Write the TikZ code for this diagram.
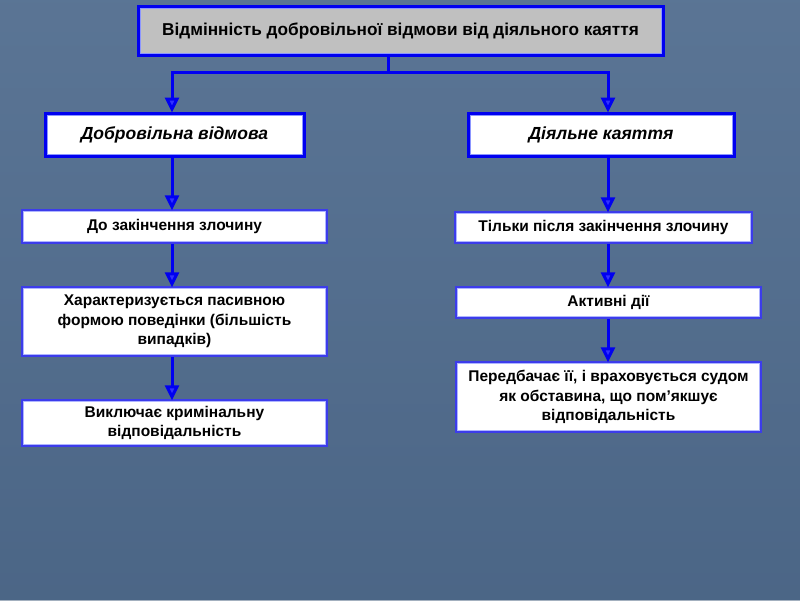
\documentclass[tikz,border=0pt]{standalone}
\usepackage{fontspec}
\setmainfont{Liberation Sans}
\usetikzlibrary{arrows.meta,calc}
\definecolor{bg}{RGB}{80,108,142}
\definecolor{bline}{RGB}{0,0,240}
\definecolor{binner}{RGB}{140,150,255}
\definecolor{tgray}{RGB}{192,192,192}
\definecolor{afill}{RGB}{50,50,255}
\tikzset{
  boxbase/.style={rectangle, inner sep=0pt, align=center, font=\fontsize{15.5}{19.5}\selectfont\bfseries},
  titlebox/.style={boxbase, fill=tgray, draw=bline, line width=3pt, font=\fontsize{17.2}{20}\selectfont\bfseries},
  headbox/.style={boxbase, fill=white, draw=bline, line width=3pt, font=\fontsize{17.5}{20}\selectfont\bfseries\itshape},
  itembox/.style={boxbase, fill=white, draw={rgb,255:red,60;green,60;blue,235}, line width=1.5pt},
  innerline/.style={draw=binner, line width=0.9pt},
  conn/.style={draw=bline, line width=3pt},
  arr/.style={conn, -{Triangle[width=14pt,length=15pt,fill=afill]}, shorten >=-1pt},
}
\begin{document}
\begin{tikzpicture}[x=1pt,y=-1pt]
\fill[bg] (0,0) rectangle (800,600);
\useasboundingbox (0,0) rectangle (800,600);
\shade[top color=bg!88!white, bottom color=bg!90!black, opacity=0.5] (0,0) rectangle (800,600);

\node[titlebox, minimum width=525pt, minimum height=49pt] (title) at (400.5,30.5) {Відмінність добровільної відмови від діяльного каяття};

\node[headbox, minimum width=259pt, minimum height=43pt] (dv) at (174.5,134.5) {Добровільна відмова};
\node[headbox, minimum width=266pt, minimum height=43pt] (dk) at (601,134.5) {Діяльне каяття};

\node[itembox, minimum width=305pt, minimum height=33pt] (l1) at (174.5,226.5) {До закінчення злочину};
\node[itembox, minimum width=305pt, minimum height=69pt] (l2) at (174.5,321.5) {Характеризується пасивною\\формою поведінки (більшість\\випадків)};
\node[itembox, minimum width=305pt, minimum height=46pt] (l3) at (174.5,423) {Виключає кримінальну\\відповідальність};

\node[itembox, minimum width=297pt, minimum height=31pt] (r1) at (603.5,227.5) {Тільки після закінчення злочину};
\node[itembox, minimum width=305pt, minimum height=31pt] (r2) at (608.5,302.5) {Активні дії};
\node[itembox, minimum width=305pt, minimum height=70pt] (r3) at (608.5,397) {Передбачає її, і враховується судом\\як обставина, що пом’якшує\\відповідальність};

\foreach \n in {title,dv,dk}{
  \draw[innerline] ([shift={(3.5,3.5)}]\n.north west) rectangle ([shift={(-3.5,-3.5)}]\n.south east);
}
\foreach \n in {l1,l2,l3,r1,r2,r3}{
  \draw[innerline, draw=binner!70!white] ([shift={(2.5,2.5)}]\n.north west) rectangle ([shift={(-2.5,-2.5)}]\n.south east);
}

\coordinate (cl) at (172,0);
\coordinate (cr) at (608,0);
\coordinate (bus) at (388,72);

\draw[conn] (title.south -| bus) -- (bus);
\draw[arr] (bus) -| (dv.north -| cl);
\draw[arr] (bus) -| (dk.north -| cr);

\draw[arr] (dv.south -| cl) -- (l1.north -| cl);
\draw[arr] (l1.south -| cl) -- (l2.north -| cl);
\draw[arr] (l2.south -| cl) -- (l3.north -| cl);

\draw[arr] (dk.south -| cr) -- (r1.north -| cr);
\draw[arr] (r1.south -| cr) -- (r2.north -| cr);
\draw[arr] (r2.south -| cr) -- (r3.north -| cr);
\end{tikzpicture}
\end{document}
